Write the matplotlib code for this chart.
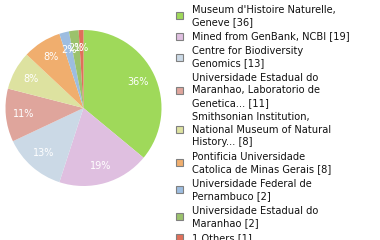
import matplotlib.pyplot as plt
from matplotlib.patches import Rectangle

labels = [
    "Museum d'Histoire Naturelle,\nGeneve [36]",
    "Mined from GenBank, NCBI [19]",
    "Centre for Biodiversity\nGenomics [13]",
    "Universidade Estadual do\nMaranhao, Laboratorio de\nGenetica... [11]",
    "Smithsonian Institution,\nNational Museum of Natural\nHistory... [8]",
    "Pontificia Universidade\nCatolica de Minas Gerais [8]",
    "Universidade Federal de\nPernambuco [2]",
    "Universidade Estadual do\nMaranhao [2]",
    "1 Others [1]",
]
values = [36, 19, 13, 11, 8, 8, 2, 2, 1]
colors = ['#9fd95a', '#dfbfe0', '#cbd9e6', '#dfa59c', '#dde2a0',
          '#f0ae6e', '#9dbde0', '#9bc26c', '#e0705a']

W, H = 380, 240
fig = plt.figure(figsize=(3.8, 2.4), dpi=100)

# pie, center (83.5, 108) px, radius 78 px
cx, cy, r = 83.5, 108, 78
ax = fig.add_axes([(cx - r) / W, (H - cy - r) / H, 2 * r / W, 2 * r / H])
ax.pie(values, colors=colors, startangle=90, counterclock=False,
       autopct='%d%%', pctdistance=0.77, radius=1,
       wedgeprops=dict(linewidth=0),
       textprops=dict(color='white', fontsize=7, family='DejaVu Sans'))
ax.set_xlim(-1, 1)
ax.set_ylim(-1, 1)
ax.set_aspect('equal')
ax.axis('off')

# legend drawn by hand
lh, gap, y = 12.3, 2.4, 9.5
for lab, col in zip(labels, colors):
    lines = lab.split('\n')
    ymid = y + (len(lines) - 1) * lh / 2
    fig.patches.append(Rectangle((175.5 / W, 1 - (ymid + 3.5) / H), 7 / W, 7 / H,
                                 transform=fig.transFigure, facecolor=col,
                                 edgecolor='#808080', linewidth=0.8))
    for ln in lines:
        fig.text(192 / W, 1 - y / H, ln, fontsize=7.1, color='#111111',
                 va='center', ha='left')
        y += lh
    y += gap

plt.savefig('out.png', dpi=100)
